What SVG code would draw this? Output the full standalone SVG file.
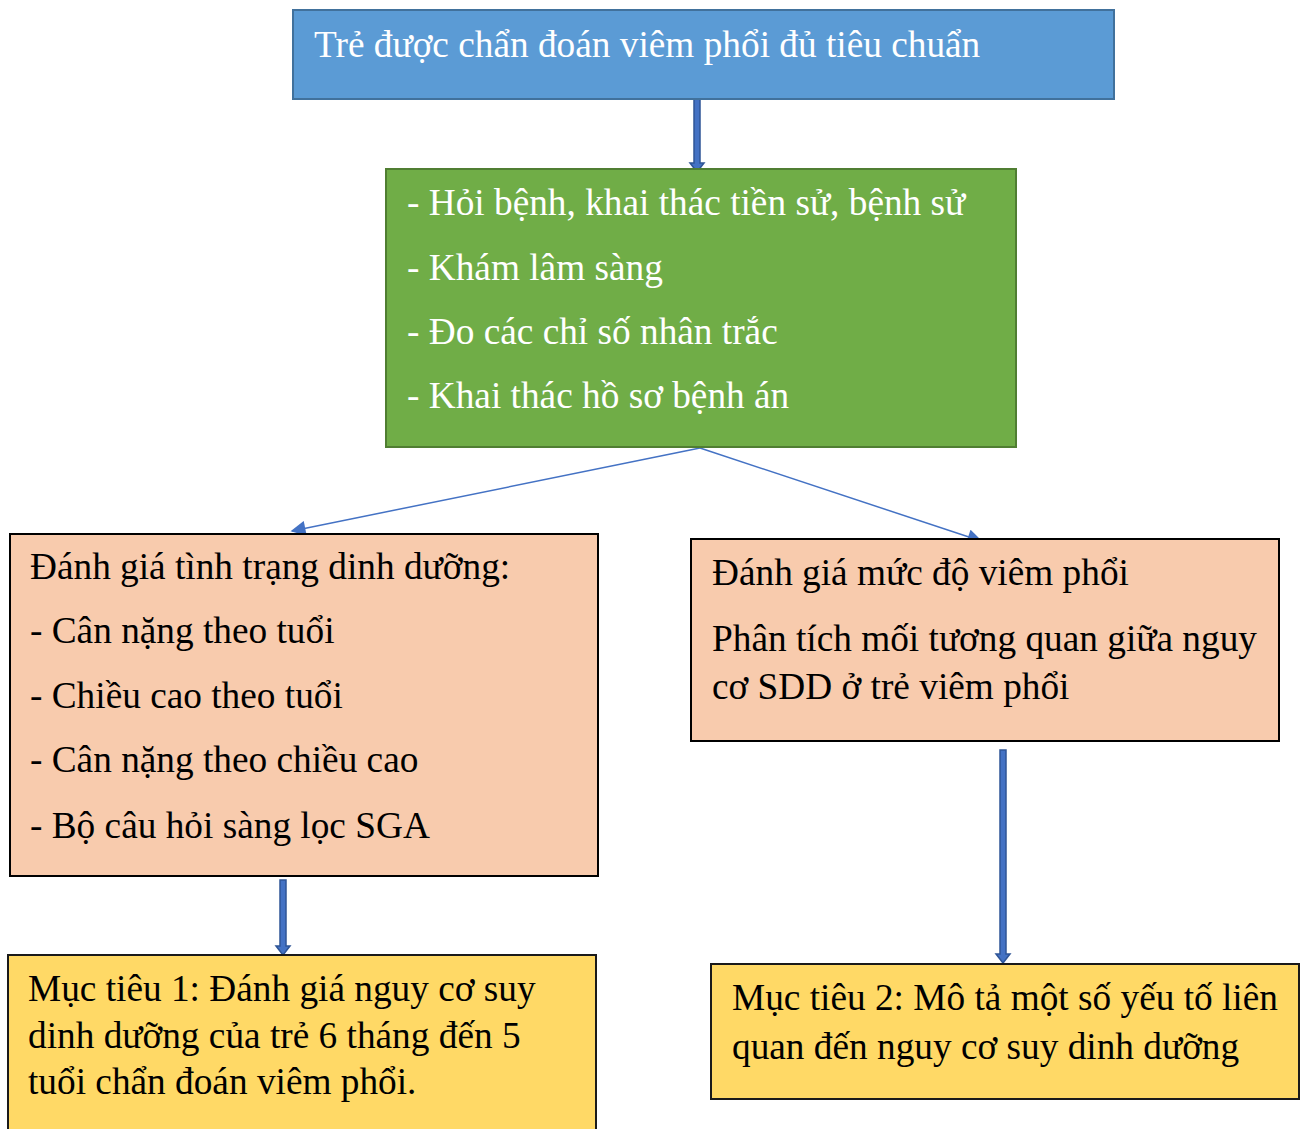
<svg xmlns="http://www.w3.org/2000/svg" width="1305" height="1129" viewBox="0 0 1305 1129">
<defs>
<style>
.t{font-family:"Liberation Serif","Times New Roman",serif;font-size:37.3px;fill:#000}
.w{fill:#fff}
.blue{fill:#5B9BD5;stroke:#41719C;stroke-width:2}
.green{fill:#70AD47;stroke:#507E32;stroke-width:2}
.peach{fill:#F8CBAD;stroke:#000;stroke-width:2}
.yellow{fill:#FFD966;stroke:#1a1a1a;stroke-width:2}
.thin{stroke:#4472C4;stroke-width:1.5;fill:none}
.block{fill:#4472C4;stroke:#2F5597;stroke-width:1.5}
</style>
<marker id="ah" viewBox="0 0 10 10" refX="9" refY="5" markerWidth="17" markerHeight="15" markerUnits="userSpaceOnUse" orient="auto"><path d="M0,0 L10,5 L0,10 z" fill="#4472C4"/></marker>
</defs>
<g id="connectors">
<path class="block" d="M694,99 L700,99 L700,163 L704,163 L697,172 L690,163 L694,163 z"/>
<line class="thin" x1="700" y1="448" x2="292" y2="531" marker-end="url(#ah)"/>
<line class="thin" x1="700" y1="448" x2="981" y2="541" marker-end="url(#ah)"/>
<path class="block" d="M280,880 L286,880 L286,946 L290,946 L283,955 L276,946 L280,946 z"/>
<path class="block" d="M1000,750 L1006,750 L1006,954 L1010,954 L1003,963 L996,954 L1000,954 z"/>
</g>
<g id="n1">
<rect class="blue" x="293" y="10" width="821" height="89"/>
<text class="t w" x="314" y="57">Trẻ được chẩn đoán viêm phổi đủ tiêu chuẩn</text>
</g>
<g id="n2">
<rect class="green" x="386" y="169" width="630" height="278"/>
<text class="t w" x="407" y="215">- Hỏi bệnh, khai thác tiền sử, bệnh sử</text>
<text class="t w" x="407" y="280">- Khám lâm sàng</text>
<text class="t w" x="407" y="344">- Đo các chỉ số nhân trắc</text>
<text class="t w" x="407" y="408">- Khai thác hồ sơ bệnh án</text>
</g>
<g id="n3">
<rect class="peach" x="10" y="534" width="588" height="342"/>
<text class="t" x="30" y="579">Đánh giá tình trạng dinh dưỡng:</text>
<text class="t" x="30" y="643">- Cân nặng theo tuổi</text>
<text class="t" x="30" y="708">- Chiều cao theo tuổi</text>
<text class="t" x="30" y="772">- Cân nặng theo chiều cao</text>
<text class="t" x="30" y="838">- Bộ câu hỏi sàng lọc SGA</text>
</g>
<g id="n4">
<rect class="peach" x="691" y="539" width="588" height="202"/>
<text class="t" x="712" y="585">Đánh giá mức độ viêm phổi</text>
<text class="t" x="712" y="651">Phân tích mối tương quan giữa nguy</text>
<text class="t" x="712" y="699">cơ SDD ở trẻ viêm phổi</text>
</g>
<g id="n5">
<rect class="yellow" x="8" y="955" width="588" height="185"/>
<text class="t" x="28" y="1001">Mục tiêu 1: Đánh giá nguy cơ suy</text>
<text class="t" x="28" y="1048">dinh dưỡng của trẻ 6 tháng đến 5</text>
<text class="t" x="28" y="1094">tuổi chẩn đoán viêm phổi.</text>
</g>
<g id="n6">
<rect class="yellow" x="711" y="964" width="588" height="135"/>
<text class="t" x="732" y="1010">Mục tiêu 2: Mô tả một số yếu tố liên</text>
<text class="t" x="732" y="1059">quan đến nguy cơ suy dinh dưỡng</text>
</g>
</svg>
